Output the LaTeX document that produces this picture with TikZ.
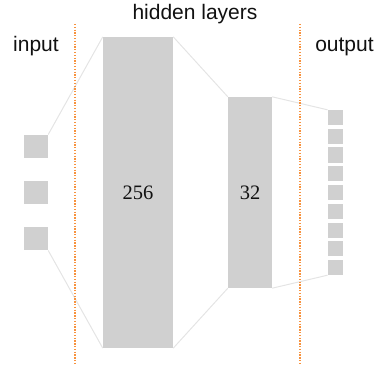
\documentclass[tikz,border=0pt]{standalone}
\usepackage{fontspec}
\setmainfont{Liberation Serif}
\setsansfont{Liberation Sans}
\usetikzlibrary{positioning}
\definecolor{unit}{HTML}{D0D0D0}
\definecolor{wire}{HTML}{E4E4E4}
\definecolor{split}{HTML}{F7923E}
\definecolor{ink}{HTML}{111111}

\begin{document}
\begin{tikzpicture}[
  x=1pt, y=1pt,
  unitbox/.style={fill=unit, draw=none, inner sep=0pt, text=ink, font=\fontsize{20.5}{24}\selectfont},
  inbox/.style={unitbox, minimum width=24pt, minimum height=23.5pt},
  outbox/.style={unitbox, minimum width=15pt, minimum height=15pt},
  wirel/.style={draw=wire, line width=1pt},
  splitl/.style={draw=split, line width=1.8pt, dash pattern=on 1.3pt off 1.5pt},
  lbl/.style={font=\sffamily\fontsize{21}{25}\selectfont, text=ink, anchor=base},
]
\useasboundingbox (0,0) rectangle (378,365);

% layer labels
\node[lbl] (lblin) at (36,313) {input};
\node[lbl] (lblhidden) at (195,345.5) {hidden layers};
\node[lbl] (lblout) at (344.5,313) {output};

% input units
\node[inbox] (in1) at (36,218.5) {};
\node[inbox] (in2) at (36,172.5) {};
\node[inbox] (in3) at (36,126.5) {};

% hidden layers
\node[unitbox, minimum width=70pt, minimum height=311pt] (h256) at (138,172.5) {256};
\node[unitbox, minimum width=44pt, minimum height=191pt] (h32) at (250,172.5) {32};

% output units
\foreach \i in {1,...,9}
  \node[outbox] (out\i) at (335.2,{247.5-18.75*(\i-1)}) {};

% fan lines
\draw[wirel] (in1.north east) -- (h256.north west);
\draw[wirel] (in3.south east) -- (h256.south west);
\draw[wirel] (h256.north east) -- (h32.north west);
\draw[wirel] (h256.south east) -- (h32.south west);
\draw[wirel] (h32.north east) -- (out1.north west);
\draw[wirel] (h32.south east) -- (out9.south west);

% separators
\coordinate (sepLtop) at (75,341);
\coordinate (sepLbot) at (75,0);
\coordinate (sepRtop) at (300,341);
\coordinate (sepRbot) at (300,0);
\draw[splitl] (sepLtop) -- (sepLbot);
\draw[splitl] (sepRtop) -- (sepRbot);
\end{tikzpicture}
\end{document}
